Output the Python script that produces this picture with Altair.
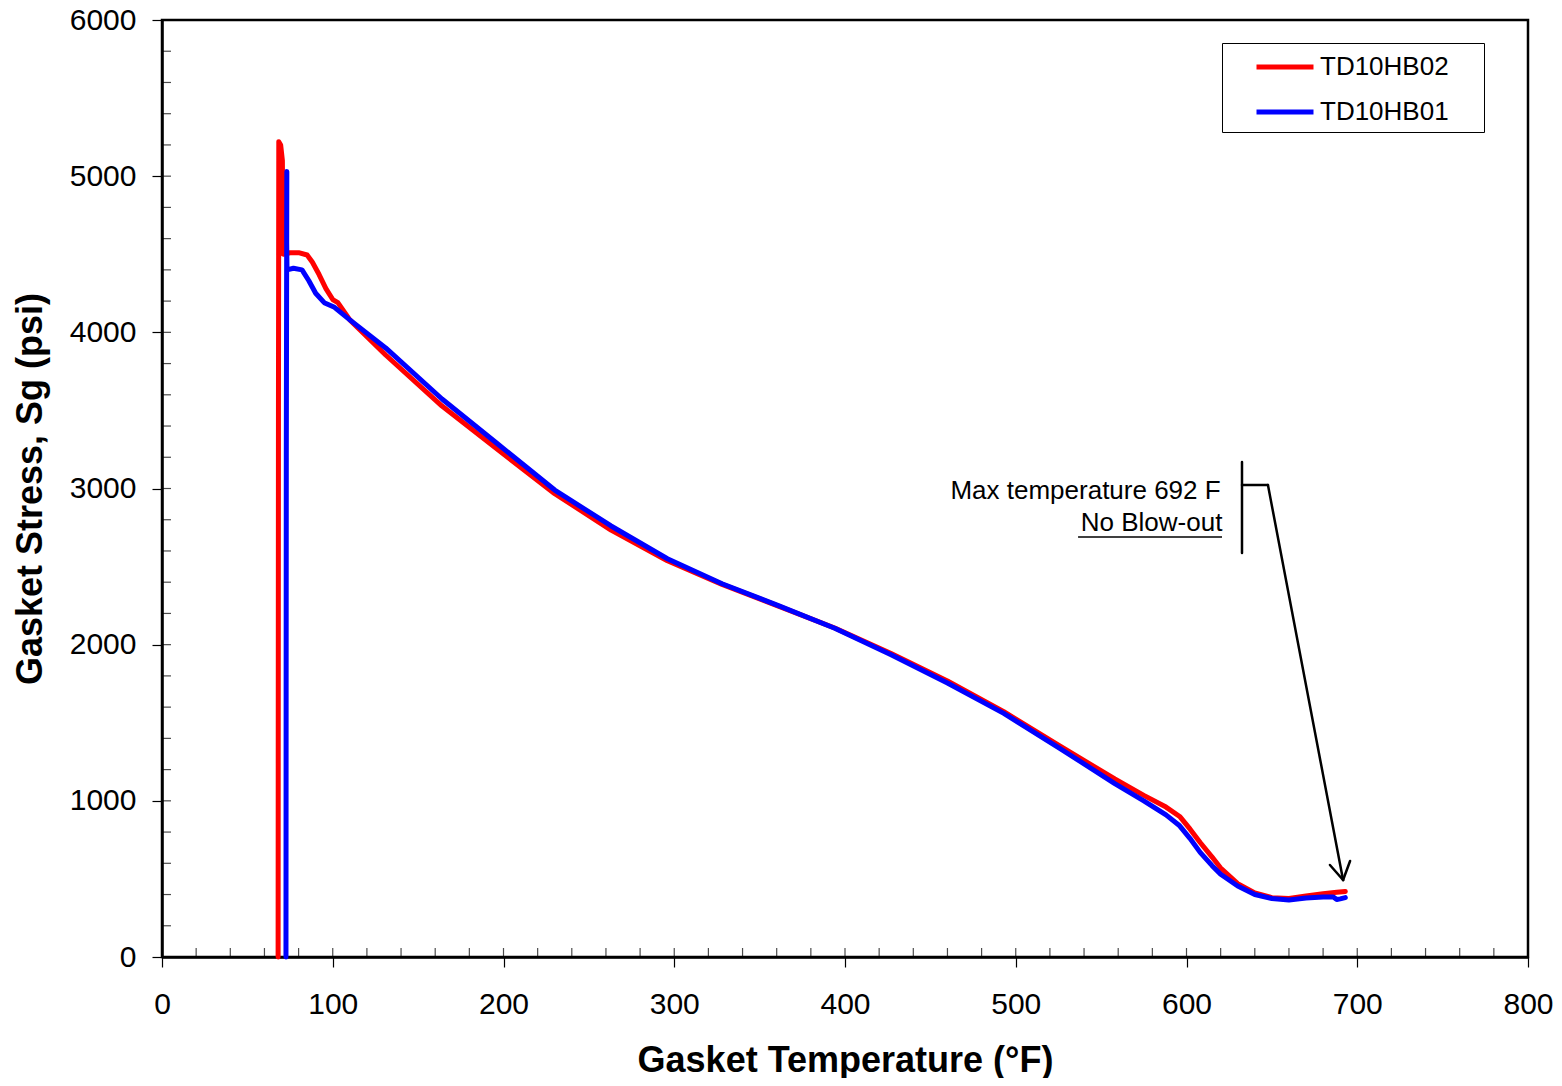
import altair as alt
import pandas as pd

# ---- data ----
red_T = [68.0, 68.1, 68.2, 68.4, 69.5, 70.5, 70.7, 71.0, 75, 80, 85, 88, 92, 96, 100, 103,
         110, 131, 164, 197, 230, 263, 296, 328, 361, 394, 427, 460, 493, 526, 558, 575, 588,
         596, 602, 608, 615, 620, 630, 640, 650, 660, 670, 680, 688, 693]
red_S = [0, 1800, 3500, 5220, 5200, 5100, 4800, 4500, 4510, 4510, 4495, 4450, 4370, 4280, 4210, 4190,
         4080, 3855, 3528, 3246, 2967, 2734, 2537, 2386, 2247, 2107, 1943, 1768, 1571, 1350, 1140, 1035, 960,
         900, 820, 733, 640, 570, 470, 410, 380, 375, 390, 405, 415, 420]

blue_T = [72.6, 72.7, 72.8, 73.1, 73.0, 73.2, 77, 82, 86, 90, 95, 98, 101,
          110, 131, 164, 197, 230, 263, 296, 328, 361, 394, 427, 460, 493, 526, 558, 575, 588,
          596, 602, 608, 615, 620, 630, 640, 650, 660, 670, 680, 686, 688, 690, 693]
blue_S = [0, 1700, 3200, 5030, 4600, 4400, 4410, 4400, 4330, 4250, 4190, 4175, 4160,
          4080, 3900, 3573, 3282, 2990, 2760, 2550, 2390, 2250, 2105, 1935, 1755, 1560, 1335, 1110, 1000, 910,
          840, 760, 670, 585, 530, 455, 400, 375, 365, 378, 384, 384, 368, 372, 380]

series_names = ["TD10HB02", "TD10HB01"]
series_colors = ["#ff0000", "#0000ff"]

# annotation (data coordinates)
note_lines = ["Max temperature 692 F", "No Blow-out"]
note_T = [620, 621]
note_S = [2984, 2779]
underline = {"x": 536.5, "x2": 620.8, "y": 2689}
leader_x = [632.5, 632.5, 647.7, 684.0, 695.8]
leader_y = [3170, 3022, 3022, 589, 615]
leader_x2 = [632.5, 647.7, 691.7, 691.7, 691.7]
leader_y2 = [2587, 3022, 493, 493, 493]

x_minor = list(range(0, 801, 20))
y_minor = list(range(0, 6001, 200))

W, H = 1366, 937
FONT = "Liberation Sans"

rows = []
for i, (t, s) in enumerate(zip(red_T, red_S)):
    rows.append({"T": t, "S": s, "series": series_names[0], "idx": i})
for i, (t, s) in enumerate(zip(blue_T, blue_S)):
    rows.append({"T": t, "S": s, "series": series_names[1], "idx": i})
df = pd.DataFrame(rows)

xscale = alt.Scale(domain=[0, 800], nice=False, zero=False)
yscale = alt.Scale(domain=[0, 6000], nice=False, zero=False)

xaxis = alt.Axis(values=list(range(0, 801, 100)), format="d", title="Gasket Temperature (°F)",
                 titleX=W / 2, titleY=103, titleBaseline="middle", titleAlign="center")
yaxis = alt.Axis(values=list(range(0, 6001, 1000)), format="d", title="Gasket Stress, Sg (psi)",
                 titleX=-132, titleY=H / 2, titleBaseline="middle", titleAlign="center", titleAngle=270)

lines = alt.Chart(df).mark_line(strokeWidth=5, strokeCap="round", strokeJoin="round").encode(
    x=alt.X("T:Q", scale=xscale, axis=xaxis),
    y=alt.Y("S:Q", scale=yscale, axis=yaxis),
    color=alt.Color("series:N", scale=alt.Scale(domain=series_names, range=series_colors),
                    legend=alt.Legend(title=".", titleOrient="right", titleOpacity=0, titleFontSize=10,
                                      titlePadding=25,
                                      orient="none", legendX=1060, legendY=23,
                                      symbolType="M-2,0H2", symbolSize=812, symbolStrokeWidth=5,
                                      labelFontSize=26, labelFont=FONT, labelColor="#000",
                                      padding=7, symbolOffset=39, labelOffset=18, rowPadding=15,
                                      strokeColor="#000", fillColor="#fff")),
    order="idx:Q",
    detail="series:N",
)

xt = alt.Chart(pd.DataFrame({"T": x_minor})).mark_tick(orient="vertical", color="#000", thickness=1.2, size=9).encode(
    x=alt.X("T:Q", scale=xscale), y=alt.value(H - 4.5))
yt = alt.Chart(pd.DataFrame({"S": y_minor})).mark_tick(orient="horizontal", color="#000", thickness=1.2, size=9).encode(
    y=alt.Y("S:Q", scale=yscale), x=alt.value(4.5))

notes = alt.Chart(pd.DataFrame({"T": note_T, "S": note_S, "t": note_lines})).mark_text(
    align="right", baseline="middle", font=FONT, fontSize=26, color="#000").encode(
    x=alt.X("T:Q", scale=xscale), y=alt.Y("S:Q", scale=yscale), text="t:N")

ul = alt.Chart(pd.DataFrame([underline])).mark_rule(color="#000", strokeWidth=1.5).encode(
    x=alt.X("x:Q", scale=xscale), x2="x2:Q", y=alt.Y("y:Q", scale=yscale))

leader = alt.Chart(pd.DataFrame({"x": leader_x, "y": leader_y, "x2": leader_x2, "y2": leader_y2})).mark_rule(
    color="#000", strokeWidth=2.5, strokeCap="round").encode(
    x=alt.X("x:Q", scale=xscale), y=alt.Y("y:Q", scale=yscale), x2="x2:Q", y2="y2:Q")

chart = alt.layer(lines, xt, yt, notes, ul, leader).properties(
    width=W, height=H,
    autosize=alt.AutoSizeParams(type="none"),
    padding={"left": 154, "top": 12, "right": 26, "bottom": 121},
).configure_view(stroke="#000", strokeWidth=2.5).configure_axis(
    grid=False, domainColor="#000", domainWidth=2.5, tickColor="#000", tickWidth=1.2, tickSize=10,
    labelFont=FONT, labelFontSize=30, labelColor="#000", labelFlush=False,
    titleFont=FONT, titleFontSize=36, titleFontWeight="bold", titleColor="#000",
).configure_axisX(labelPadding=22).configure_axisY(labelPadding=16)

chart.save("out.html", embed_options={"renderer": "svg", "actions": False})
